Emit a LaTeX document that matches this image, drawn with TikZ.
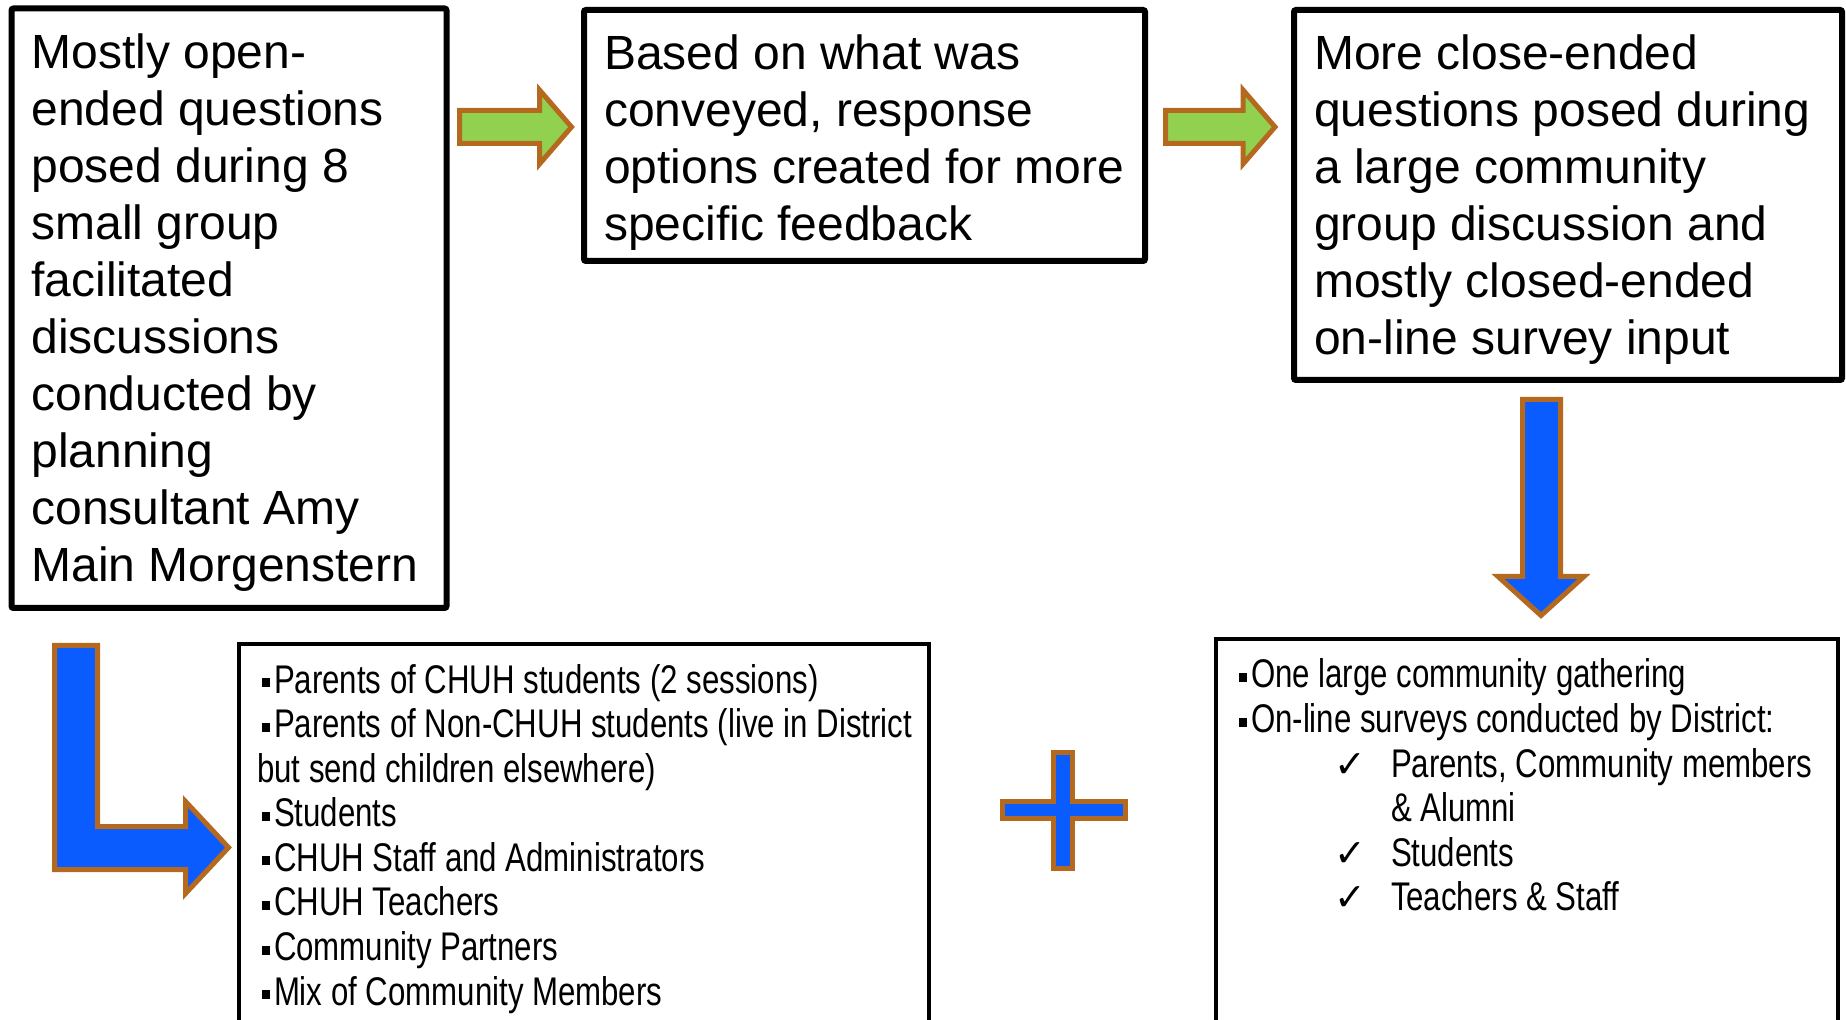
\documentclass[tikz,border=0pt]{standalone}
\usepackage{fontspec}
\setmainfont{Liberation Sans}
\newfontfamily\narrowfont[FakeStretch=0.78]{Liberation Sans}
\newfontfamily\checkfont{DejaVu Sans}
\usepackage{xcolor}
\usepackage{tikz}
\usetikzlibrary{positioning}
\definecolor{arrowEdge}{HTML}{B5691F}
\definecolor{arrowGreen}{HTML}{92D050}
\definecolor{arrowBlue}{HTML}{0A5CFF}
\newcommand{\boxbody}[3]{\makebox[#1][l]{\parbox[t][#2][t]{420pt}{\raggedright #3}}}
\newcommand{\sqbullet}{\hspace*{2.5pt}\rule[3pt]{4pt}{4.5pt}\hspace{2pt}}
\newcommand{\checkitem}{\hspace*{50pt}\makebox[28.5pt][l]{\checkfont\fontsize{19}{22}\selectfont ✓}}

\begin{document}
\begin{tikzpicture}[x=0.5pt,y=-0.5pt,
            bigbox/.style={draw,line width=3pt,rounded corners=1pt,anchor=north west,outer sep=0pt,
                        inner xsep=10pt,inner ysep=12.5pt,font=\fontsize{24}{28.5}\selectfont},
            listbox/.style={draw,line width=1.75pt,anchor=north west,outer sep=0pt,
                        inner xsep=9pt,inner ysep=9.5pt,font=\narrowfont\fontsize{20}{22.3}\selectfont},
            greenarrow/.style={draw=arrowEdge,fill=arrowGreen,line width=2.5pt},
            bluearrow/.style={draw=arrowEdge,fill=arrowBlue,line width=2.5pt}]
            \clip (0,0) rectangle (1846,1020);
            \node[bigbox] (smallgroups) at (11.5,8.5) {\boxbody{197.5pt}{274.75pt}{%
                Mostly open-\\ended questions\\posed during 8\\small group\\facilitated\\discussions\\conducted by\\planning\\consultant Amy\\Main Morgenstern}};
            \node[bigbox] (options) at (584,10) {\boxbody{260.5pt}{100.5pt}{%
                Based on what was\\conveyed, response\\options created for more\\specific feedback}};
            \node[bigbox] (closeended) at (1294,10) {\boxbody{254pt}{160pt}{%
                More close-ended\\questions posed during\\a large community\\group discussion and\\mostly closed-ended\\on-line survey input}};
            \node[listbox] (groupslist) at (239,644) {\boxbody{327pt}{195pt}{%
                \rule{0pt}{15pt}\sqbullet Parents of CHUH students (2 sessions)\\
                \sqbullet Parents of Non-CHUH students (live in District\\
                but send children elsewhere)\\
                \sqbullet Students\\
                \sqbullet CHUH Staff and Administrators\\
                \sqbullet CHUH Teachers\\
                \sqbullet Community Partners\\
                \sqbullet Mix of Community Members}};
            \node[listbox] (surveylist) at (1216,639) {\boxbody{293pt}{197pt}{%
                \rule{0pt}{15pt}\sqbullet One large community gathering\\
                \sqbullet On-line surveys conducted by District:\\
                \checkitem Parents, Community members\\
                \hspace*{78.5pt}\& Alumni\\
                \checkitem Students\\
                \checkitem Teachers \& Staff}};
            \draw[greenarrow] (459.5,110.5)--(539.5,110.5)--(539.5,90)--(571.5,127)--(539.5,164)--(539.5,143.5)--(459.5,143.5)--cycle;
            \draw[greenarrow] (1165.5,110.5)--(1243,110.5)--(1243,90)--(1275,127)--(1243,164)--(1243,143.5)--(1165.5,143.5)--cycle;
            \draw[bluearrow] (1522.5,399.5)--(1560.5,399.5)--(1560.5,576.5)--(1584,576.5)--(1541,615.5)--(1498,576.5)--(1522.5,576.5)--cycle;
            \draw[bluearrow] (54.5,645.5)--(97.5,645.5)--(97.5,826.5)--(185.5,826.5)--(185.5,801.5)--(228.5,847.5)--(185.5,893.5)--(185.5,869.5)--(54.5,869.5)--cycle;
            \draw[bluearrow] (1053.5,752.5)--(1072.5,752.5)--(1072.5,801.5)--(1125.5,801.5)--(1125.5,818.5)--(1072.5,818.5)
                --(1072.5,868.5)--(1053.5,868.5)--(1053.5,818.5)--(1002.5,818.5)--(1002.5,801.5)--(1053.5,801.5)--cycle;
        \end{tikzpicture}
\end{document}
